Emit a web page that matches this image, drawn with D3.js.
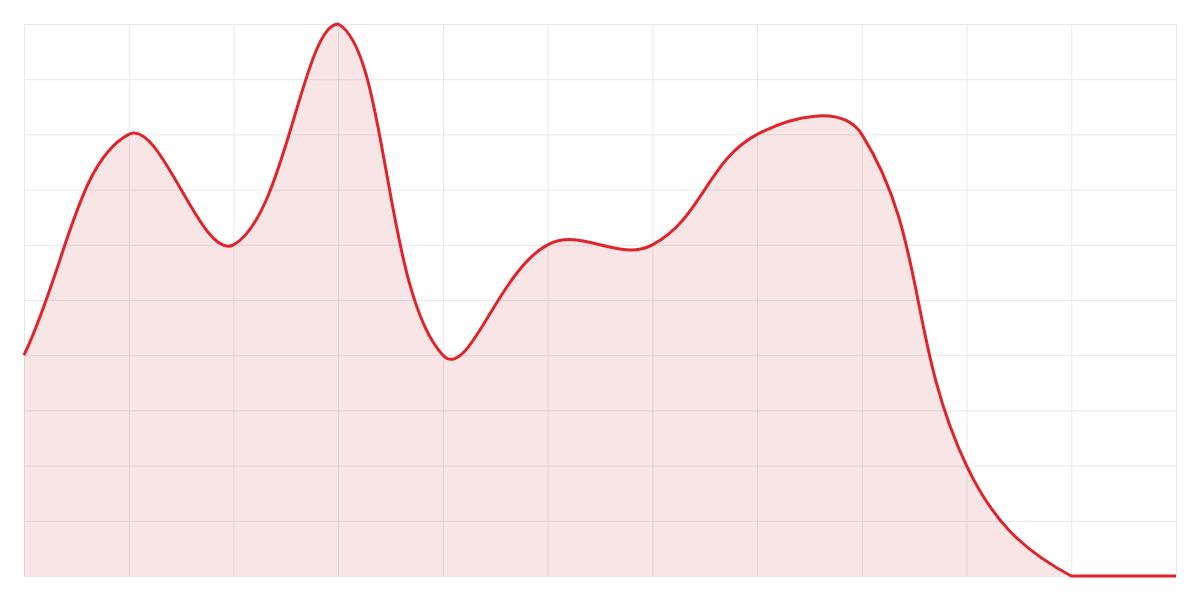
<!DOCTYPE html>
<html>
<head>
    <script type="text/javascript" src="https://cdn.jsdelivr.net/npm/d3@7"></script>
    <style>
        body { margin: 0; background: #fff; }
    </style>
</head>
<body>
    <div id="viz"></div>
    <script type="text/javascript">

    // data
    var labels = ["1", "2", "3", "4", "5", "6", "7", "8", "9", "10", "11", "12"];
    var values = [4, 8, 6, 10, 4, 6, 6, 8, 8, 2, 0, 0];
    var yTicks = [0, 1, 2, 3, 4, 5, 6, 7, 8, 9, 10];

    // note: "top" is window.top and can't be reassigned, so use other names
    var width = 1200, height = 600,
        plotLeft = 24, plotRight = 1176, plotTop = 24, plotBottom = 576;

    var svg = d3.select("#viz")
        .append("svg")
        .attr("width", width)
        .attr("height", height);

    var x = d3.scalePoint().domain(labels).range([plotLeft, plotRight]);
    var y = d3.scaleLinear().domain([0, 10]).range([plotBottom, plotTop]);

    // grid
    svg.append("g")
        .attr("transform", "translate(0," + plotBottom + ")")
        .call(d3.axisBottom(x).tickSize(-(plotBottom - plotTop)).tickFormat(""))
        .call(function(g){
            g.select(".domain").remove();
            g.selectAll("line").attr("stroke", "#e8e8ec");
        });
    svg.append("g")
        .attr("transform", "translate(" + plotLeft + ",0)")
        .call(d3.axisLeft(y).tickValues(yTicks).tickSize(-(plotRight - plotLeft)).tickFormat(""))
        .call(function(g){
            g.select(".domain").remove();
            g.selectAll("line").attr("stroke", "#e8e8ec");
        });

    // spline with tension 0.4, control points kept inside the plot area
    var pts = values.map(function(v, i){ return [x(labels[i]), y(v)]; });
    var tension = 0.4;
    var cps = pts.map(function(p, i){
        var prev = pts[Math.max(i - 1, 0)], next = pts[Math.min(i + 1, pts.length - 1)];
        var d01 = Math.hypot(p[0] - prev[0], p[1] - prev[1]);
        var d12 = Math.hypot(next[0] - p[0], next[1] - p[1]);
        var s01 = d01 / (d01 + d12 || 1), s12 = d12 / (d01 + d12 || 1);
        var fa = tension * s01, fb = tension * s12;
        function cap(c){
            return [Math.max(plotLeft, Math.min(plotRight, c[0])), Math.max(plotTop, Math.min(plotBottom, c[1]))];
        }
        return {
            prev: cap([p[0] - fa * (next[0] - prev[0]), p[1] - fa * (next[1] - prev[1])]),
            next: cap([p[0] + fb * (next[0] - prev[0]), p[1] + fb * (next[1] - prev[1])])
        };
    });

    function linePath(path){
        path.moveTo(pts[0][0], pts[0][1]);
        for (var i = 1; i < pts.length; i++) {
            path.bezierCurveTo(cps[i-1].next[0], cps[i-1].next[1], cps[i].prev[0], cps[i].prev[1], pts[i][0], pts[i][1]);
        }
        return path;
    }

    var area = linePath(d3.path());
    area.lineTo(pts[pts.length - 1][0], y(0));
    area.lineTo(pts[0][0], y(0));
    area.closePath();

    svg.append("path")
        .attr("d", area.toString())
        .attr("fill", "rgba(200, 40, 40, 0.12)");

    svg.append("path")
        .attr("d", linePath(d3.path()).toString())
        .attr("fill", "none")
        .attr("stroke", "#e0242a")
        .attr("stroke-width", 3)
        .attr("stroke-linejoin", "round");

    </script>
</body>
</html>
